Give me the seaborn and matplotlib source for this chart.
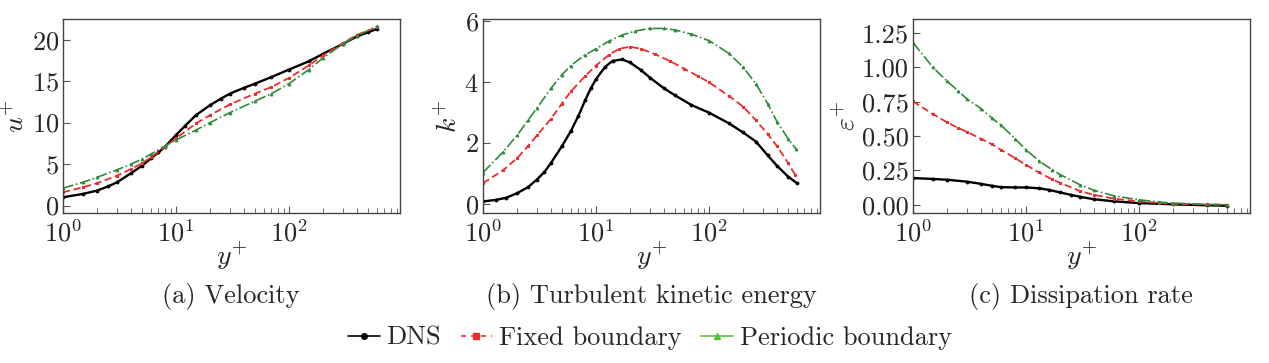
import numpy as np
import pandas as pd
import matplotlib
matplotlib.use("Agg")
import matplotlib.pyplot as plt
import seaborn as sns
from matplotlib.lines import Line2D
from matplotlib.ticker import LogLocator, NullFormatter

# ---- data ----
# (a) velocity u+
yp_u_dns = [1, 1.5, 2, 2.5, 3, 4, 5, 6, 7, 8, 10, 12, 15, 20, 25, 30, 40, 50, 70,
            100, 150, 200, 300, 400, 500, 600]
u_dns = [1.0, 1.4, 1.8, 2.3, 2.8, 3.9, 4.8, 5.7, 6.4, 7.1, 8.5, 9.6, 10.9, 12.1, 12.9,
         13.5, 14.2, 14.7, 15.5, 16.4, 17.4, 18.3, 19.5, 20.4, 20.9, 21.3]
yp_u_fix = [1, 1.5, 2, 3, 4, 5, 6, 8, 10, 15, 20, 30, 50, 70, 100, 150, 200, 300, 400, 600]
u_fix = [1.6, 2.2, 2.7, 3.6, 4.4, 5.1, 5.8, 7.1, 8.1, 9.9, 10.9, 12.2, 13.5, 14.3, 15.4,
         16.9, 18.1, 19.6, 20.6, 21.5]
yp_u_per = [1, 1.5, 2, 3, 4, 5, 6, 8, 10, 15, 20, 30, 50, 70, 100, 150, 200, 300, 400, 600]
u_per = [2.1, 2.8, 3.4, 4.3, 5.0, 5.6, 6.2, 7.2, 7.9, 9.1, 10.0, 11.2, 12.6, 13.5, 14.7,
         16.4, 17.8, 19.5, 20.5, 21.6]

# (b) turbulent kinetic energy k+
yp_k_dns = [1, 1.3, 1.6, 2, 2.5, 3, 3.5, 4, 5, 6, 7, 8, 9, 10, 12, 14, 17, 20, 25, 30,
            40, 50, 70, 100, 150, 200, 260, 330, 400, 500, 600]
k_dns = [0.08, 0.13, 0.2, 0.35, 0.55, 0.8, 1.05, 1.35, 1.9, 2.4, 2.9, 3.4, 3.8, 4.1, 4.5,
         4.7, 4.75, 4.65, 4.4, 4.15, 3.8, 3.57, 3.25, 3.0, 2.65, 2.35, 2.05, 1.6, 1.25,
         0.9, 0.68]
yp_k_fix = [1, 1.5, 2, 2.5, 3, 4, 5, 6, 8, 10, 13, 16, 20, 25, 33, 45, 60, 80, 100, 150,
            200, 260, 330, 400, 500, 580]
k_fix = [0.68, 1.1, 1.5, 1.9, 2.25, 2.8, 3.3, 3.7, 4.2, 4.55, 4.9, 5.1, 5.17, 5.1, 4.93,
         4.7, 4.45, 4.2, 4.0, 3.55, 3.2, 2.75, 2.3, 1.9, 1.35, 0.95]
yp_k_per = [1, 1.5, 2, 2.5, 3, 4, 5, 6, 8, 10, 13, 17, 22, 30, 40, 50, 70, 100, 150, 200,
            260, 330, 400, 500, 590]
k_per = [1.03, 1.7, 2.25, 2.75, 3.15, 3.8, 4.25, 4.55, 4.9, 5.1, 5.35, 5.55, 5.68, 5.77,
         5.77, 5.72, 5.58, 5.37, 4.95, 4.5, 3.95, 3.3, 2.7, 2.15, 1.8]

# (c) dissipation rate eps+
yp_e_dns = [1, 1.5, 2, 3, 4, 5, 6, 8, 10, 13, 16, 20, 25, 30, 40, 60, 100, 200, 400, 600]
e_dns = [0.194, 0.188, 0.182, 0.168, 0.152, 0.138, 0.128, 0.126, 0.126, 0.12, 0.108,
         0.09, 0.072, 0.058, 0.04, 0.025, 0.012, 0.003, -0.004, -0.007]
yp_e_fix = [1, 1.5, 2, 2.5, 3, 4, 5, 6, 8, 10, 13, 17, 20, 30, 40, 60, 100, 150, 200, 400, 600]
e_fix = [0.752, 0.66, 0.6, 0.56, 0.53, 0.48, 0.44, 0.4, 0.34, 0.29, 0.235, 0.185, 0.16,
         0.1, 0.072, 0.045, 0.024, 0.013, 0.007, 0.002, 0.0]
yp_e_per = [1, 1.5, 2, 2.5, 3, 4, 5, 6, 8, 10, 13, 17, 20, 30, 40, 60, 100, 150, 200, 400, 600]
e_per = [1.18, 1.0, 0.9, 0.83, 0.77, 0.7, 0.63, 0.58, 0.48, 0.4, 0.32, 0.255, 0.22,
         0.146, 0.105, 0.065, 0.036, 0.02, 0.012, 0.003, 0.0]

series_names = ["DNS", "Fixed boundary", "Periodic boundary"]
captions = ["(a) Velocity", "(b) Turbulent kinetic energy", "(c) Dissipation rate"]
ylabels = [r"$u^{+}$", r"$k^{+}$", r"$\varepsilon^{+}$"]

sns.set_style("ticks")
plt.rcParams["font.family"] = "cmr10"
plt.rcParams["mathtext.fontset"] = "cm"
plt.rcParams["axes.formatter.use_mathtext"] = True
plt.rcParams["axes.unicode_minus"] = False

c_dns, c_fix, c_per, c_per_leg = "black", "#ee2a2a", "#2e8b3a", "#5cc040"
styles = [
    dict(color=c_dns, linestyle="-", marker="o", markersize=2.0, linewidth=1.7,
         markeredgecolor=c_dns),
    dict(color=c_fix, linestyle=(0, (4, 2)), marker="s", markersize=2.0, linewidth=1.3,
         markeredgecolor=c_fix),
    dict(color=c_per, linestyle="-.", marker="^", markersize=2.0, linewidth=1.2,
         markeredgecolor=c_per),
]

panels = [
    [(yp_u_dns, u_dns), (yp_u_fix, u_fix), (yp_u_per, u_per)],
    [(yp_k_dns, k_dns), (yp_k_fix, k_fix), (yp_k_per, k_per)],
    [(yp_e_dns, e_dns), (yp_e_fix, e_fix), (yp_e_per, e_per)],
]
ylims = [(-0.9, 22.5), (-0.3, 6.08), (-0.06, 1.352)]
yticks = [[0, 5, 10, 15, 20], [0, 2, 4, 6], [0.0, 0.25, 0.5, 0.75, 1.0, 1.25]]
lefts = [63, 483, 913]

fig = plt.figure(figsize=(12.69, 3.63), dpi=100)
for i in range(3):
    ax = fig.add_axes([lefts[i] / 1269, 1 - 213 / 363, 337 / 1269, 194 / 363])
    for (x, y), st, name in zip(panels[i], styles, series_names):
        df = pd.DataFrame({"yplus": x, "val": y})
        sns.lineplot(data=df, x="yplus", y="val", ax=ax, label=name, legend=False, **st)
    ax.set_xscale("log")
    ax.set_xlim(1, 960)
    ax.set_ylim(*ylims[i])
    ax.set_yticks(yticks[i])
    if i == 2:
        ax.set_yticklabels([f"{v:.2f}" for v in yticks[i]])
    ax.xaxis.set_major_locator(LogLocator(base=10, numticks=10))
    ax.xaxis.set_minor_locator(LogLocator(base=10, subs=np.arange(2, 10), numticks=10))
    ax.xaxis.set_minor_formatter(NullFormatter())
    ax.tick_params(direction="in", which="both", labelsize=19, color="#555555")
    ax.tick_params(which="major", length=5)
    ax.tick_params(which="minor", length=3.5)
    ax.tick_params(axis="x", pad=5)
    ax.tick_params(axis="y", pad=3)
    for sp in ax.spines.values():
        sp.set_color("#444444")
        sp.set_linewidth(1.0)
    ax.set_xlabel(r"$y^{+}$", fontsize=20, labelpad=-5)
    ax.set_ylabel(ylabels[i], fontsize=20, labelpad=1)
    fig.text((lefts[i] + 168) / 1269, 1 - 297 / 363, captions[i], ha="center", va="center",
             fontsize=19)

handles = [
    Line2D([], [], color=c_dns, linestyle="-", marker="o", markersize=4, linewidth=1.2),
    Line2D([], [], color=c_fix, linestyle=(0, (3, 3)), marker="s", markersize=4, linewidth=1.2),
    Line2D([], [], color=c_per_leg, linestyle="-", marker="^", markersize=4, linewidth=1.2),
]
fig.legend(handles, series_names, loc="center", bbox_to_anchor=(0.512, 1 - 338 / 363),
           ncol=3, frameon=False, fontsize=19, handlelength=1.2, handletextpad=0.25,
           columnspacing=0.75)

fig.savefig("out.png", dpi=100)
